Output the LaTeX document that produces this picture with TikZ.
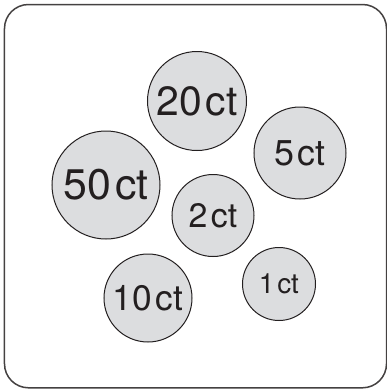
\documentclass[tikz,border=0pt]{standalone}
\usepackage{fontspec}
\setmainfont{TeX Gyre Heros}
\definecolor{coingray}{RGB}{220,221,223}
\definecolor{ink}{RGB}{35,31,32}
\newcommand{\coinfont}[1]{\fontsize{#1}{#1}\selectfont}
\newcommand{\ct}{\hspace{0.1em}ct}
\begin{document}
\begin{tikzpicture}[x=1bp,y=-1bp,
    coin/.style={circle,draw=ink,line width=1bp,fill=coingray,text=ink,inner sep=0pt},
    tray/.style={draw=ink!85,line width=1.5bp,rounded corners=24bp}]
  \useasboundingbox (0,0) rectangle (387,389);
  \draw[tray] (4.5,4.5) rectangle (386.5,387.8);
  \node[coin,minimum size=99bp,font=\coinfont{41}] (c20) at (197,101) {20\ct};
  \node[coin,minimum size=92bp,font=\coinfont{36}] (c5) at (300,153) {5\ct};
  \node[coin,minimum size=108bp,font=\coinfont{43}] (c50) at (106,185) {50\ct};
  \node[coin,minimum size=82bp,font=\coinfont{34}] (c2) at (213,215.5) {2\ct};
  \node[coin,minimum size=88bp,font=\coinfont{35.5}] (c10) at (148,298) {10\ct};
  \node[coin,minimum size=73bp,font=\coinfont{28}] (c1) at (279,284) {1\ct};
\end{tikzpicture}
\end{document}
